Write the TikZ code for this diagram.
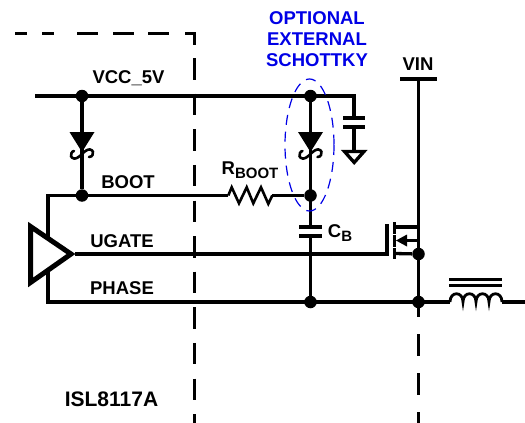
\documentclass[tikz,border=0pt]{standalone}
\usepackage{fontspec}
\setmainfont{Liberation Sans}
\definecolor{optblue}{RGB}{0,0,230}
\tikzset{
  wire/.style={line width=3.3pt,line cap=butt,line join=miter},
  frame/.style={line width=3.3pt},
  framev/.style={frame,dash pattern=on 21.5pt off 14.1pt,dash phase=9.5pt},
  framer/.style={frame,dash pattern=on 22pt off 17pt,dash phase=7pt},
  dot/.style={circle,fill=black,inner sep=0pt,minimum size=12.5pt},
  lbl/.style={font=\fontsize{18.5}{20}\selectfont\bfseries,inner sep=0pt},
  chiplbl/.style={font=\fontsize{21}{24}\selectfont\bfseries,inner sep=0pt},
  optlbl/.style={lbl,text=optblue},
  plate/.style={line width=3.3pt},
  squig/.style={line width=2.6pt,line cap=round},
}
\newcommand{\subtxt}[1]{\raisebox{-3.5pt}{\fontsize{15}{16}\selectfont\bfseries #1}}
\newcommand{\schottky}[1]{%
  \begin{scope}[shift={(#1)}]
  \fill (-12.5,-22) -- (12.5,-22) -- (0,-2) -- cycle;
  \draw[squig] (0,0) .. controls (-3,3) and (-6,5) .. (-8,4.5) .. controls (-11,4) and (-12,1) .. (-10.5,-1) .. controls (-10,-2) and (-9,-3) .. (-8,-3);
  \draw[squig] (0,0) .. controls (3,-3) and (6,-5) .. (8,-4.5) .. controls (11,-4) and (12,-1) .. (10.5,1) .. controls (10,2) and (9,3) .. (7,3);
  \end{scope}
}
\begin{document}
\begin{tikzpicture}[x=1pt,y=-1pt]
\useasboundingbox (0,0) rectangle (525,423);
% frame
\coordinate (fb) at (195,32); \coordinate (fc) at (195,423);
\draw[frame] (15,33.5) -- (27,33.5) (42,33.5) -- (54,33.5) (77,33.5) -- (98,33.5) (113,33.5) -- (134,33.5) (148,33.5) -- (169,33.5);
\draw[frame] (185,33.5) -- (194.5,33.5) -- (194.5,45);
\draw[framev] (194.5,32) -- (194.5,423);
\coordinate (fd) at (418.5,302); \coordinate (fe) at (418.5,423);
\draw[framer] (fd) -- (fe);
% junctions
\node[dot] (n1) at (82,96) {};
\node[dot] (n2) at (82,195.5) {};
\node[dot] (n3) at (310.5,96) {};
\node[dot] (n4) at (310.5,195.5) {};
\node[dot] (n5) at (310.5,302) {};
\node[dot] (n6) at (418.5,254) {};
\node[dot] (n7) at (418.5,302) {};
\coordinate (railL) at (35,96); \coordinate (railR) at (355.8,96);
\coordinate (d1) at (82,154); \coordinate (d2) at (310.5,154);
\coordinate (bootL) at (48,195.5);
\coordinate (phaseL) at (48,302);
\coordinate (rl) at (228.3,195.5); \coordinate (rr) at (272.3,195.5);
\coordinate (ca) at (310.5,227); \coordinate (cb) at (310.5,236);
\coordinate (va) at (354,118); \coordinate (vb) at (354,127);
\coordinate (vg) at (354,151);
\coordinate (apex) at (75,254); \coordinate (gate) at (387,254);
\coordinate (vin) at (418.5,79);
\coordinate (ll) at (450,302); \coordinate (lr) at (502,302); \coordinate (pe) at (525,302);
% rails
\draw[wire] (railL) -- (railR);
\draw[wire] (n1) -- (n2);
\draw[wire] (n3) -- (ca);
\draw[wire] (cb) -- (n5);
\draw[wire] (354,94.7) -- (va);
\draw[wire] (vb) -- (vg);
\draw[wire] (rr) -- (n4);
\draw[wire] (rl) -- (bootL) -- (phaseL) -- (ll);
\draw[wire] (lr) -- (pe);
\draw[wire] (apex) -- (gate);
\draw[wire] (vin) -- (n6) -- (n7);
% diodes
\schottky{d1}\schottky{d2}
% resistor
\draw[line width=2.6pt,line join=miter] (rl) -- (231.7,187.3) -- (239,203.3) -- (246.7,187.3) -- (253.3,203.3) -- (261,187.3) -- (268.3,203.8) -- (rr);
% capacitors
\draw[plate] (299,227) -- (322,227) (299,236) -- (322,236);
\draw[plate] (343,118) -- (365,118) (343,127) -- (365,127);
% ground
\draw[line width=3.3pt,line join=miter] (344.5,151.5) -- (364,151.5) -- (354.2,162.5) -- cycle;
% driver
\draw[line width=5pt,line join=miter,fill=white] (30.5,226.5) -- (71,254) -- (30.5,282.5) -- cycle;
% mosfet
\draw[wire] (gate) ++(0,1.6) -- (387,224);
\draw[plate] (394.5,222) -- (394.5,233.5) (394.5,235) -- (394.5,247) (394.5,248) -- (394.5,258.5);
\draw[wire] (394.5,227) -- (420.1,227);
\draw[wire] (394.5,253.5) -- (n6);
\draw[wire] (404,240.5) -- (418.5,240.5);
\fill (396,240.5) -- (407,234.5) -- (407,246.5) -- cycle;
\draw[wire] (400,79) -- (437,79);
% inductor
\draw[line width=3pt] (449,279) -- (502,279) (449,285) -- (502,285);
\draw[line width=2.8pt] (ll) .. controls (450,291) and (463,291) .. (463,302)
  .. controls (463,291) and (476,291) .. (476,302)
  .. controls (476,291) and (489,291) .. (489,302)
  .. controls (489,291) and (502,291) .. (lr);
% optional ellipse
\draw[optblue,line width=1.2pt,dash pattern=on 10pt off 7pt] (309.5,145) ellipse [x radius=24.5,y radius=66];
% labels
\node[optlbl] (t1) at (317,18) {OPTIONAL};
\node[optlbl] (t2) at (317,39) {EXTERNAL};
\node[optlbl] (t3) at (317,60) {SCHOTTKY};
\node[lbl] (l1) at (128.5,78.5) {VCC\_5V};
\node[lbl] (l2) at (128,182.5) {BOOT};
\node[lbl] (l3) at (122,241) {UGATE};
\node[lbl] (l4) at (122,288) {PHASE};
\node[lbl] (l5) at (250,170) {R\subtxt{BOOT}};
\node[lbl] (l6) at (340,233) {C\subtxt{B}};
\node[lbl] (l7) at (418,64) {VIN};
\node[chiplbl] (l8) at (111.5,399) {ISL8117A};
\end{tikzpicture}
\end{document}
